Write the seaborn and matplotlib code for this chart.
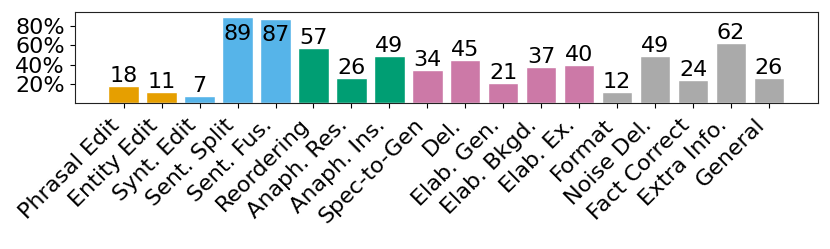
import matplotlib
matplotlib.use("Agg")
import matplotlib.pyplot as plt
import seaborn as sns
import pandas as pd

# ===================== data =====================
CATEGORIES = ['Phrasal Edit', 'Entity Edit', 'Synt. Edit', 'Sent. Split', 'Sent. Fus.',
              'Reordering', 'Anaph. Res.', 'Anaph. Ins.', 'Spec-to-Gen', 'Del.',
              'Elab. Gen.', 'Elab. Bkgd.', 'Elab. Ex.', 'Format', 'Noise Del.',
              'Fact Correct', 'Extra Info.', 'General']
VALUES = [18, 11, 7, 89, 87, 57, 26, 49, 34, 45, 21, 37, 40, 12, 49, 24, 62, 26]
GROUPS = ['lex', 'lex', 'syn', 'syn', 'syn', 'disc', 'disc', 'disc',
          'sem', 'sem', 'sem', 'sem', 'sem', 'oth', 'oth', 'oth', 'oth', 'oth']
GROUP_COLORS = {'lex': '#E69F00', 'syn': '#56B4E9', 'disc': '#009E73',
                'sem': '#CC79A7', 'oth': '#AAAAAA'}

df = pd.DataFrame({'cat': CATEGORIES, 'val': VALUES})
palette = [GROUP_COLORS[g] for g in GROUPS]

# ===================== plot =====================
fig = plt.figure(figsize=(8.3, 2.49), dpi=100)
ax = fig.add_axes([0.090, 0.586, 0.8955, 0.366])

sns.barplot(data=df, x='cat', y='val', hue='cat', palette=palette, legend=False,
            width=0.8, saturation=1, edgecolor='white', linewidth=1, ax=ax)

# value labels (inside the bar for the two tallest)
for i, v in enumerate(VALUES):
    if v > 80:
        ax.annotate(str(v), (i, v), xytext=(0, -4.5), textcoords='offset points',
                    ha='center', va='top', fontsize=16)
    else:
        ax.annotate(str(v), (i, v), xytext=(0, 0), textcoords='offset points',
                    ha='center', va='bottom', fontsize=16)

ax.set_xlim(-1.29, len(VALUES) - 1 + 1.29)
ax.set_ylim(0, 94.5)
ax.set_yticks([20, 40, 60, 80])
ax.set_yticklabels([f'{t}%' for t in [20, 40, 60, 80]], fontsize=16)
ax.set_xticks(range(len(CATEGORIES)))
ax.set_xticklabels(CATEGORIES, rotation=45, ha='right', fontsize=16)
ax.tick_params(axis='x', pad=5)
ax.set_xlabel('')
ax.set_ylabel('')
for s in ax.spines.values():
    s.set_color('#222222')

fig.savefig('out.png', dpi=100)
